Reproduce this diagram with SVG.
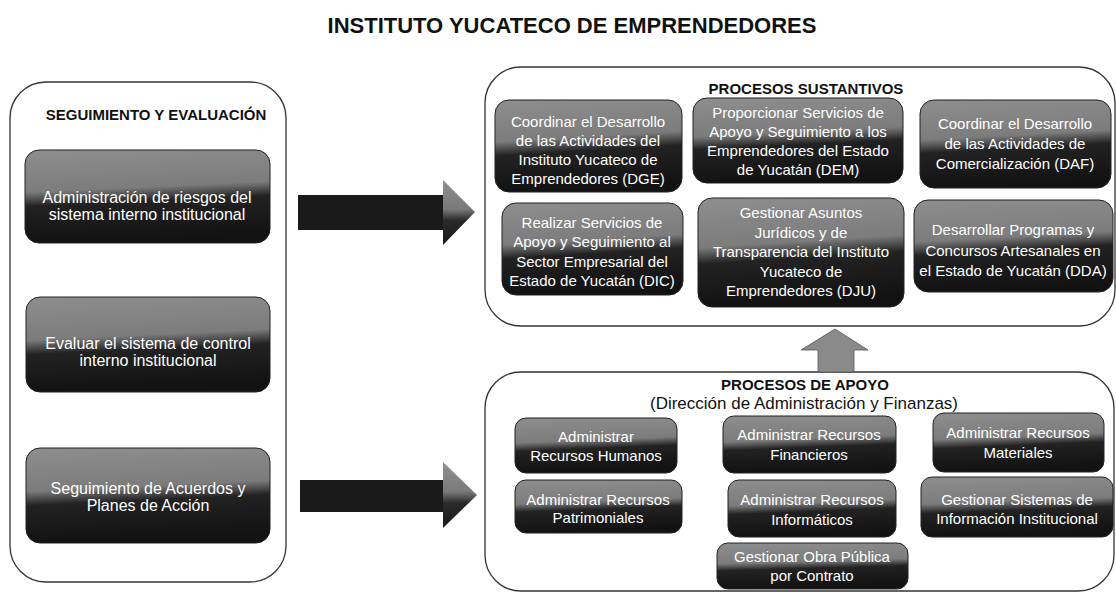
<svg xmlns="http://www.w3.org/2000/svg" width="1116" height="595" viewBox="0 0 1116 595">
<defs>
<linearGradient id="boxg" x1="0" y1="0" x2="0.12" y2="1">
<stop offset="0" stop-color="#8e8e8e"/>
<stop offset="0.45" stop-color="#7c7c7c"/>
<stop offset="0.6" stop-color="#222"/>
<stop offset="1" stop-color="#121212"/>
</linearGradient>
<linearGradient id="headg" x1="0" y1="0" x2="0" y2="1">
<stop offset="0" stop-color="#909090"/>
<stop offset="0.45" stop-color="#7a7a7a"/>
<stop offset="0.62" stop-color="#2a2a2a"/>
<stop offset="1" stop-color="#1a1a1a"/>
</linearGradient>
</defs>
<style>
.cont{fill:#fff;stroke:#333;stroke-width:1.3}
.box{fill:url(#boxg);stroke:#222;stroke-width:1}
.tx{font-family:"Liberation Sans",Arial,sans-serif;font-size:15px;fill:#fff;text-anchor:middle}
.tl{font-family:"Liberation Sans",Arial,sans-serif;font-size:16px;fill:#fff;text-anchor:middle}
.hd{font-family:"Liberation Sans",Arial,sans-serif;font-size:15px;font-weight:bold;fill:#111;text-anchor:middle}
.sub{font-family:"Liberation Sans",Arial,sans-serif;font-size:17px;fill:#111;text-anchor:middle}
.title{font-family:"Liberation Sans",Arial,sans-serif;font-size:22px;font-weight:bold;fill:#111;text-anchor:middle}
.shaft{fill:#1a1a1a}
.head{fill:url(#headg)}
.up{fill:#8a8a8a;stroke:#555;stroke-width:0.8}
</style>
<rect width="1116" height="595" fill="#fff"/>
<text class="title" x="572" y="33">INSTITUTO YUCATECO DE EMPRENDEDORES</text>

<g id="seguimiento">
<rect class="cont" x="10" y="82" width="276" height="500" rx="36"/>
<text class="hd" x="156" y="120">SEGUIMIENTO Y EVALUACIÓN</text>
</g>
<g id="riesgos">
<rect class="box" x="25" y="150" width="245" height="93" rx="14"/>
<text class="tl" x="147" y="203">Administración de riesgos del</text>
<text class="tl" x="147" y="220">sistema interno institucional</text>
</g>
<g id="evaluar">
<rect class="box" x="26" y="297" width="244" height="95" rx="14"/>
<text class="tl" x="148" y="349">Evaluar el sistema de control</text>
<text class="tl" x="148" y="366">interno institucional</text>
</g>
<g id="acuerdos">
<rect class="box" x="26" y="448" width="244" height="95" rx="14"/>
<text class="tl" x="148" y="494">Seguimiento de Acuerdos y</text>
<text class="tl" x="148" y="511">Planes de Acción</text>
</g>

<g id="sustantivos">
<rect class="cont" x="485" y="67" width="630" height="259" rx="36"/>
<text class="hd" x="806" y="94">PROCESOS SUSTANTIVOS</text>
</g>
<g id="dge">
<rect class="box" x="495" y="100" width="187" height="92" rx="14"/>
<text class="tx" x="588" y="127">Coordinar el Desarrollo</text>
<text class="tx" x="588" y="146">de las Actividades del</text>
<text class="tx" x="588" y="165">Instituto Yucateco de</text>
<text class="tx" x="588" y="184">Emprendedores (DGE)</text>
</g>
<g id="dem">
<rect class="box" x="693" y="98" width="210" height="85" rx="14"/>
<text class="tx" x="798" y="118">Proporcionar Servicios de</text>
<text class="tx" x="798" y="137">Apoyo y Seguimiento a los</text>
<text class="tx" x="798" y="156">Emprendedores del Estado</text>
<text class="tx" x="798" y="175">de Yucatán (DEM)</text>
</g>
<g id="daf">
<rect class="box" x="920" y="100" width="191" height="88" rx="14"/>
<text class="tx" x="1015" y="129">Coordinar el Desarrollo</text>
<text class="tx" x="1015" y="149">de las Actividades de</text>
<text class="tx" x="1015" y="169">Comercialización (DAF)</text>
</g>
<g id="dic">
<rect class="box" x="502" y="203" width="181" height="92" rx="14"/>
<text class="tx" x="592" y="228">Realizar Servicios de</text>
<text class="tx" x="592" y="247">Apoyo y Seguimiento al</text>
<text class="tx" x="592" y="267">Sector Empresarial del</text>
<text class="tx" x="592" y="286">Estado de Yucatán (DIC)</text>
</g>
<g id="dju">
<rect class="box" x="698" y="198" width="206" height="109" rx="14"/>
<text class="tx" x="801" y="218">Gestionar Asuntos</text>
<text class="tx" x="801" y="238">Jurídicos y de</text>
<text class="tx" x="801" y="257">Transparencia del Instituto</text>
<text class="tx" x="801" y="277">Yucateco de</text>
<text class="tx" x="801" y="296">Emprendedores (DJU)</text>
</g>
<g id="dda">
<rect class="box" x="914" y="200" width="199" height="92" rx="14"/>
<text class="tx" x="1013" y="235">Desarrollar Programas y</text>
<text class="tx" x="1013" y="256">Concursos Artesanales en</text>
<text class="tx" x="1013" y="276">el Estado de Yucatán (DDA)</text>
</g>

<g id="apoyo">
<rect class="cont" x="485" y="372" width="629" height="219" rx="36"/>
<text class="hd" x="805" y="390">PROCESOS DE APOYO</text>
<text class="sub" x="804" y="409">(Dirección de Administración y Finanzas)</text>
</g>
<g id="rh">
<rect class="box" x="515" y="418" width="162" height="55" rx="11"/>
<text class="tx" x="596" y="442">Administrar</text>
<text class="tx" x="596" y="461">Recursos Humanos</text>
</g>
<g id="financieros">
<rect class="box" x="723" y="416" width="173" height="57" rx="11"/>
<text class="tx" x="809" y="440">Administrar Recursos</text>
<text class="tx" x="809" y="460">Financieros</text>
</g>
<g id="materiales">
<rect class="box" x="933" y="413" width="171" height="59" rx="11"/>
<text class="tx" x="1018" y="438">Administrar Recursos</text>
<text class="tx" x="1018" y="458">Materiales</text>
</g>
<g id="patrimoniales">
<rect class="box" x="515" y="480" width="167" height="53" rx="11"/>
<text class="tx" x="598" y="505">Administrar Recursos</text>
<text class="tx" x="598" y="523">Patrimoniales</text>
</g>
<g id="informaticos">
<rect class="box" x="728" y="480" width="168" height="57" rx="11"/>
<text class="tx" x="812" y="505">Administrar Recursos</text>
<text class="tx" x="812" y="525">Informáticos</text>
</g>
<g id="sistemas">
<rect class="box" x="921" y="477" width="192" height="60" rx="11"/>
<text class="tx" x="1017" y="505">Gestionar Sistemas de</text>
<text class="tx" x="1017" y="524">Información Institucional</text>
</g>
<g id="obra">
<rect class="box" x="717" y="543" width="191" height="46" rx="11"/>
<text class="tx" x="812" y="562">Gestionar Obra Pública</text>
<text class="tx" x="812" y="581">por Contrato</text>
</g>

<g id="connectors">
<rect class="shaft" x="298" y="195" width="146" height="35"/>
<polygon class="head" points="443,180 475,212 443,245"/>
<rect class="shaft" x="300" y="480" width="144" height="32"/>
<polygon class="head" points="443,462 477,495 443,528"/>
<polygon class="up" points="818,372 818,350 801,350 835,329 868,350 854,350 854,372"/>
</g>
</svg>
